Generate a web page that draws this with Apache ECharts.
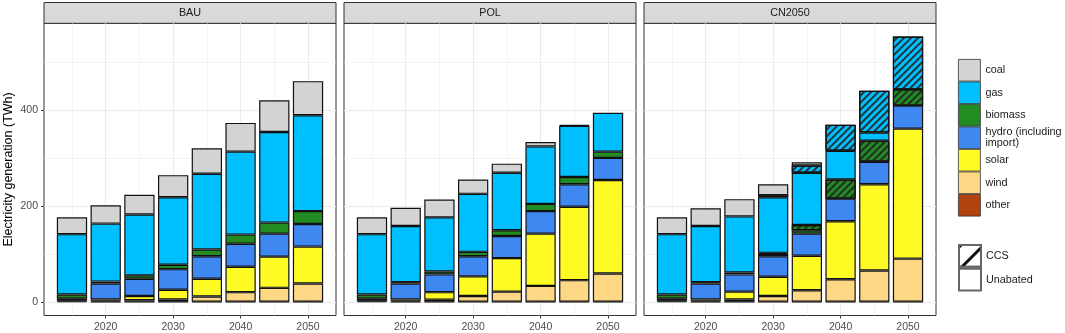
<!DOCTYPE html>
<html>
<head>
<meta charset="utf-8">
<script src="https://cdn.jsdelivr.net/npm/echarts@6/dist/echarts.min.js"></script>
<style>
  html, body { margin: 0; padding: 0; background: #fff; }
  #chart { width: 1065px; height: 333px; }
</style>
</head>
<body>
<div id="chart"></div>
<script>
const years = [2015, 2020, 2025, 2030, 2035, 2040, 2045, 2050];
const scenarios = ["BAU", "POL", "CN2050"];
const xTicks = [2020, 2030, 2040, 2050];
const xMinorTicks = [2015, 2025, 2035, 2045];
const yTicks = [0, 200, 400];
const yMinorTicks = [100, 300, 500];

// TWh per year
const bauOther = [2, 1, 1, 1, 1, 1, 1, 1];
const bauWind = [1, 2, 3, 5, 11, 20, 29, 38];
const bauSolar = [0, 3, 9, 20, 37, 53, 65, 77];
const bauHydro = [5, 33, 36, 43, 47, 48, 48, 47];
const bauBiomass = [8, 4, 7, 9, 14, 19, 23, 27];
const bauGas = [126, 121, 127, 141, 158, 173, 189, 200];
const bauCoal = [35, 38, 41, 46, 53, 60, 66, 71];

const polOther = [2, 1, 1, 1, 1, 1, 1, 1];
const polWind = [1, 2, 4, 12, 21, 33, 45, 59];
const polSolar = [0, 3, 16, 41, 70, 109, 153, 195];
const polHydro = [5, 33, 37, 42, 46, 47, 47, 46];
const polBiomass = [8, 3, 6, 9, 12, 15, 15, 13];
const polGas = [126, 117, 113, 121, 120, 120, 107, 81];
const polCoal = [35, 38, 37, 30, 19, 9, 2, 0];

const cnOther = [2, 1, 1, 1, 1, 1, 1, 1];
const cnWind = [1, 2, 5, 12, 24, 47, 65, 90];
const cnSolar = [0, 3, 16, 40, 72, 121, 180, 271];
const cnHydro = [5, 33, 36, 43, 46, 47, 47, 48];
const cnBiomass = [8, 3, 4, 5, 7, 0, 0, 0];
const cnBiomassCCS = [0, 0, 0, 2, 11, 40, 44, 34];
const cnGas = [126, 117, 117, 116, 109, 60, 17, 0];
const cnGasCCS = [0, 0, 0, 4, 15, 54, 87, 110];
const cnCoal = [35, 37, 36, 23, 7, 0, 0, 0];

const colors = {
  coal: "#d3d3d3",
  gas: "#00bfff",
  biomass: "#228b22",
  hydro: "#3f88f2",
  solar: "#fdfa24",
  wind: "#fed785",
  other: "#b0430f"
};
const HYDRO = "hydro (including import)";

const hatch = {
  symbol: "rect",
  symbolSize: 1,
  dashArrayX: [1, 0],
  dashArrayY: [2, 2.6],
  rotation: -Math.PI / 4,
  color: "rgba(35,35,35,0.9)"
};

// bottom to top
const layers = [
  [
    ["other", bauOther], ["wind", bauWind], ["solar", bauSolar], [HYDRO, bauHydro],
    ["biomass", bauBiomass], ["gas", bauGas], ["coal", bauCoal]
  ],
  [
    ["other", polOther], ["wind", polWind], ["solar", polSolar], [HYDRO, polHydro],
    ["biomass", polBiomass], ["gas", polGas], ["coal", polCoal]
  ],
  [
    ["other", cnOther], ["wind", cnWind], ["solar", cnSolar], [HYDRO, cnHydro],
    ["biomass", cnBiomass], ["biomass CCS", cnBiomassCCS],
    ["gas", cnGas], ["gas CCS", cnGasCCS], ["coal", cnCoal]
  ]
];

const panelLeft = [44, 344, 644];
const panelW = 292;
const panelTop = 23.3;
const panelH = 292.7;
const xMin = 2010.85, xMax = 2054.15;
const yMin = -27.7, yMax = 581.7;
const gridColor = "#ebebeb";
const barW = 30.3;

const grid = [], xAxis = [], yAxis = [], series = [], graphic = [];

scenarios.forEach((sc, i) => {
  grid.push({
    left: panelLeft[i], top: panelTop, width: panelW, height: panelH,
    show: true, borderColor: "#333", borderWidth: 1, backgroundColor: "transparent"
  });
  // minor grid lines
  xAxis.push({
    gridIndex: i, type: "value", min: xMin, max: xMax, position: "bottom",
    axisLine: { show: false, onZero: false },
    axisTick: { show: false, customValues: xMinorTicks },
    axisLabel: { show: false },
    splitLine: { show: true, lineStyle: { color: gridColor, width: 0.6 } }
  });
  xAxis.push({
    gridIndex: i, type: "value", min: xMin, max: xMax, position: "bottom",
    axisLine: { show: false, onZero: false },
    axisTick: { show: true, customValues: xTicks, length: 3, lineStyle: { color: "#333" } },
    axisLabel: {
      customValues: xTicks, color: "#4d4d4d", fontSize: 10.5, margin: 6.5,
      formatter: v => String(v)
    },
    splitLine: { show: true, lineStyle: { color: gridColor, width: 1.1 } }
  });
  yAxis.push({
    gridIndex: i, type: "value", min: yMin, max: yMax, position: "left",
    axisLine: { show: false, onZero: false },
    axisTick: { show: false, customValues: yMinorTicks },
    axisLabel: { show: false },
    splitLine: { show: true, lineStyle: { color: gridColor, width: 0.6 } }
  });
  yAxis.push({
    gridIndex: i, type: "value", min: yMin, max: yMax, position: "left",
    axisLine: { show: false, onZero: false },
    axisTick: { show: i === 0, customValues: yTicks, length: 3, lineStyle: { color: "#333" } },
    axisLabel: {
      show: i === 0, customValues: yTicks, color: "#4d4d4d", fontSize: 10.5, margin: 6,
      formatter: v => String(v)
    },
    splitLine: { show: true, lineStyle: { color: gridColor, width: 1.1 } },
    name: i === 0 ? "Electricity generation (TWh)" : "",
    nameLocation: "middle",
    nameGap: 29,
    nameTextStyle: { fontSize: 12.5, color: "#000" }
  });

  layers[i].forEach(([name, vals]) => {
    const ccs = name.endsWith(" CCS");
    const base = ccs ? name.replace(" CCS", "") : name;
    const key = base === HYDRO ? "hydro" : base;
    series.push({
      name: name,
      type: "bar",
      stack: sc,
      xAxisIndex: 2 * i + 1,
      yAxisIndex: 2 * i + 1,
      barWidth: barW,
      // value first so that the stack runs along y
      encode: { x: 1, y: 0 },
      data: years.map((y, k) => [vals[k] === 0 ? null : vals[k], y]),
      itemStyle: Object.assign(
        { color: colors[key], borderColor: "#111", borderWidth: 1.2 },
        ccs ? { decal: hatch } : {}
      ),
      emphasis: { disabled: true },
      silent: true
    });
  });

  graphic.push({
    type: "rect",
    shape: { x: panelLeft[i], y: 2.5, width: panelW, height: panelTop - 2.5 },
    style: { fill: "#d9d9d9", stroke: "#333", lineWidth: 1 }
  });
  graphic.push({
    type: "text",
    x: panelLeft[i] + panelW / 2,
    y: (panelTop + 2.5) / 2 + 0.5,
    style: {
      text: sc, textAlign: "center", textVerticalAlign: "middle",
      fontSize: 10.8, fill: "#1a1a1a", fontFamily: "Liberation Sans, Arial, sans-serif"
    }
  });
});

// legend-only entries for the CCS / Unabated key
series.push({
  name: "CCS", type: "bar", stack: "BAU", xAxisIndex: 1, yAxisIndex: 1, barWidth: barW,
  encode: { x: 1, y: 0 }, data: [],
  itemStyle: {
    color: "#fff", borderColor: "#666", borderWidth: 0.8,
    decal: { symbol: "rect", symbolSize: 1, dashArrayX: [1, 0], dashArrayY: [3, 12.5], rotation: -Math.PI / 4, color: "#111" }
  }
});
series.push({
  name: "Unabated", type: "bar", stack: "BAU", xAxisIndex: 1, yAxisIndex: 1, barWidth: barW,
  encode: { x: 1, y: 0 }, data: [],
  itemStyle: { color: "#fff", borderColor: "#666", borderWidth: 0.8 }
});

const legendBase = {
  orient: "vertical", left: 958, padding: 0, itemGap: 0,
  itemWidth: 22, itemHeight: 21.7, icon: "rect", selectedMode: false,
  textStyle: { fontSize: 10.8, color: "#1a1a1a", lineHeight: 10.5 }
};

const option = {
  animation: false,
  backgroundColor: "#fff",
  textStyle: { fontFamily: "Liberation Sans, Arial, sans-serif" },
  grid, xAxis, yAxis, series, graphic,
  legend: [
    Object.assign({}, legendBase, {
      top: 59,
      data: ["coal", "gas", "biomass", HYDRO, "solar", "wind", "other"],
      formatter: n => (n === HYDRO ? "hydro (including\nimport)" : n),
      itemStyle: { borderColor: "#333", borderWidth: 0.8 }
    }),
    Object.assign({}, legendBase, {
      top: 244,
      data: ["CCS", "Unabated"]
    })
  ]
};

const chart = echarts.init(document.getElementById("chart"));
chart.setOption(option);
</script>
</body>
</html>
